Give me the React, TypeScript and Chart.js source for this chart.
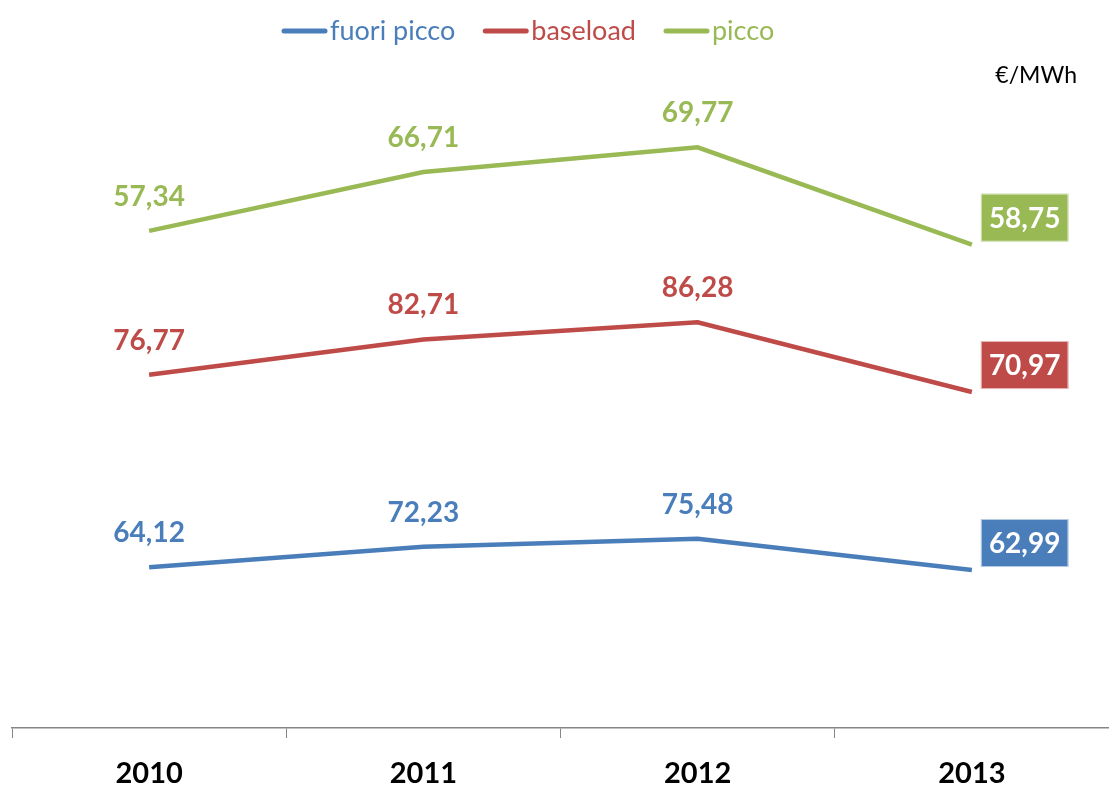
import React, { useEffect, useRef } from "react";
import { Chart, registerables } from "chart.js";

Chart.register(...registerables);

const categories = ["2010", "2011", "2012", "2013"];
const fuoriPicco = [64.12, 72.23, 75.48, 62.99];
const baseload = [76.77, 82.71, 86.28, 70.97];
const picco = [57.34, 66.71, 69.77, 58.75];
const seriesNames = ["fuori picco", "baseload", "picco"];
const seriesColors = ["#4A7EBB", "#BE4B48", "#98B954"];
const unitLabel = "€/MWh";

const FONT = "Lato, 'Liberation Sans', sans-serif";

const fmt = (v: number) => v.toFixed(2).replace(".", ",");

const labelsPlugin = {
  id: "customLabels",
  afterDatasetsDraw(chart: any) {
    const ctx = chart.ctx;
    ctx.save();
    chart.data.datasets.forEach((ds: any, di: number) => {
      const meta = chart.getDatasetMeta(di);
      meta.data.forEach((pt: any, i: number) => {
        const txt = fmt(ds.data[i]);
        ctx.font = `bold 28px ${FONT}`;
        ctx.textBaseline = "middle";
        if (i === ds.data.length - 1) {
          const w = ctx.measureText(txt).width + 16;
          const h = 48;
          const left = pt.x + 9;
          const cy = pt.y - 27;
          ctx.fillStyle = ds.borderColor;
          ctx.fillRect(left, cy - h / 2, w, h);
          ctx.strokeStyle = "rgba(255,255,255,0.6)";
          ctx.lineWidth = 1;
          ctx.strokeRect(left + 0.5, cy - h / 2 + 0.5, w - 1, h - 1);
          ctx.fillStyle = "#FFFFFF";
          ctx.textAlign = "center";
          ctx.fillText(txt, left + w / 2, cy + 1);
        } else {
          ctx.fillStyle = ds.borderColor;
          ctx.textAlign = "center";
          ctx.fillText(txt, pt.x, pt.y - 34);
        }
      });
    });
    ctx.restore();
  },
  afterDraw(chart: any) {
    const ctx = chart.ctx;
    ctx.save();
    // legend
    ctx.font = `27px ${FONT}`;
    ctx.textBaseline = "middle";
    ctx.textAlign = "left";
    let x = 284;
    const y = 31;
    seriesNames.forEach((name, i) => {
      ctx.strokeStyle = seriesColors[i];
      ctx.lineWidth = 5;
      ctx.lineCap = "round";
      ctx.beginPath();
      ctx.moveTo(x, y);
      ctx.lineTo(x + 41, y);
      ctx.stroke();
      x += 46;
      ctx.fillStyle = seriesColors[i];
      ctx.fillText(name, x, y);
      x += ctx.measureText(name).width + 30;
    });
    // unit
    ctx.font = `23px ${FONT}`;
    ctx.fillStyle = "#000000";
    ctx.textAlign = "right";
    ctx.fillText(unitLabel, 1077, 76);
    ctx.restore();
  },
};

export default function App() {
  const ref = useRef<HTMLCanvasElement | null>(null);
  useEffect(() => {
    document.body.style.margin = "0";
    const chart = new Chart(ref.current as HTMLCanvasElement, {
      type: "line",
      data: {
        labels: categories,
        datasets: [
          { label: seriesNames[0], data: fuoriPicco, borderColor: seriesColors[0], backgroundColor: seriesColors[0] },
          { label: seriesNames[1], data: baseload, borderColor: seriesColors[1], backgroundColor: seriesColors[1] },
          { label: seriesNames[2], data: picco, borderColor: seriesColors[2], backgroundColor: seriesColors[2] },
        ].map((d) => ({ ...d, borderWidth: 4.5, pointRadius: 0, tension: 0, fill: false })),
      },
      options: {
        animation: false,
        responsive: false,
        layout: { padding: { left: 12, right: 0, top: 101, bottom: 0 } },
        plugins: { legend: { display: false }, tooltip: { enabled: false } },
        scales: {
          x: {
            offset: true,
            grid: {
              offset: true,
              drawOnChartArea: false,
              drawTicks: true,
              tickLength: 10,
              color: "#868686",
              lineWidth: 1,
            },
            border: { display: true, color: "#868686", width: 1.5 },
            ticks: {
              font: { family: FONT, size: 29, weight: "bold" },
              color: "#000000",
              padding: 18,
            },
            afterFit: (scale: any) => {
              scale.height = 59;
            },
          },
          y: {
            display: false,
            stacked: true,
            min: 0,
            max: 250,
          },
        },
      },
      plugins: [labelsPlugin],
    });
    return () => chart.destroy();
  }, []);
  return <canvas ref={ref} width={1109} height={787} style={{ display: "block" }} />;
}
